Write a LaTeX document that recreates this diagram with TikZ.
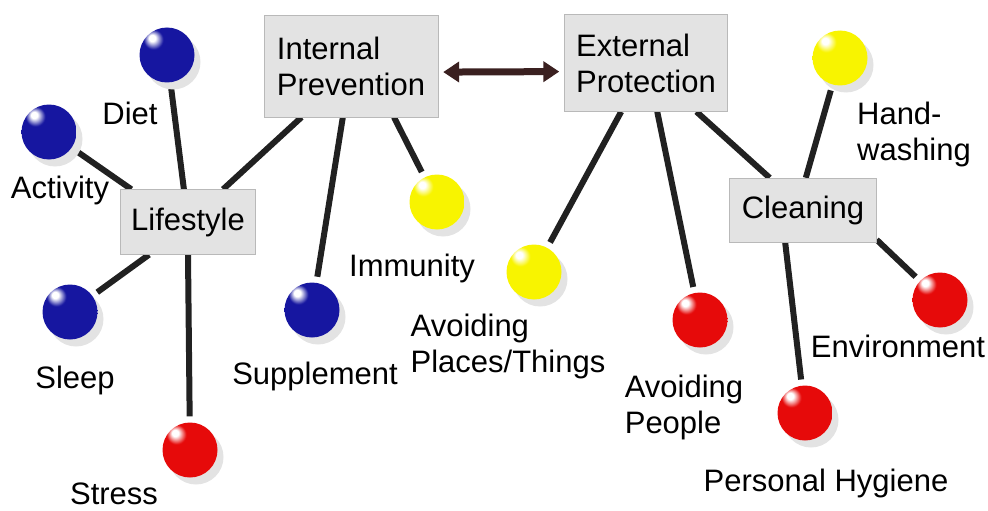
\documentclass[tikz,border=0pt]{standalone}
\usepackage{fontspec}
\setmainfont{Liberation Sans}
\usetikzlibrary{shadows,arrows.meta,backgrounds}

\definecolor{bluec}{RGB}{22,22,160}
\definecolor{redc}{RGB}{230,10,10}
\definecolor{yellowc}{RGB}{248,244,0}
\definecolor{arrowc}{RGB}{58,32,32}
\pgfdeclareradialshading{blueball}{\pgfpoint{-14bp}{16bp}}{color(0bp)=(white);color(3bp)=(white);color(9bp)=(bluec);color(38bp)=(bluec);color(58bp)=(bluec!45!black);color(80bp)=(bluec!45!black)}
\pgfdeclareradialshading{redball}{\pgfpoint{-14bp}{16bp}}{color(0bp)=(white);color(3bp)=(white);color(9bp)=(redc);color(38bp)=(redc);color(58bp)=(redc!55!black);color(80bp)=(redc!55!black)}
\pgfdeclareradialshading{yellowball}{\pgfpoint{-14bp}{16bp}}{color(0bp)=(white);color(3bp)=(white);color(9bp)=(yellowc);color(38bp)=(yellowc);color(58bp)=(yellowc!60!black);color(80bp)=(yellowc!60!black)}

\tikzstyle{box}=[draw=gray!55,fill=gray!22,align=left,inner sep=0pt]
\tikzstyle{ball}=[circle,minimum size=55pt,inner sep=0pt,
drop shadow={shadow xshift=6pt,shadow yshift=-7pt,fill=gray!22,opacity=1}]
\tikzstyle{line}=[line width=6pt,draw=black!87,shorten >=6pt]
\tikzstyle{lbl}=[inner sep=0pt,align=left]

\begin{document}
\begin{tikzpicture}[x=1pt,y=-1pt,font=\fontsize{31}{36}\selectfont]
	\useasboundingbox (0,0) rectangle (988,511);

	% boxes
	\node[box,minimum width=174pt,minimum height=102pt] (intern) at (351,66) {Internal\\Prevention};
	\node[box,minimum width=163pt,minimum height=97pt] (extern) at (646,63) {External\\Protection};
	\node[box,minimum width=135pt,minimum height=65pt] (life) at (188,222) {Lifestyle};
	\node[box,minimum width=147pt,minimum height=64pt] (clean) at (803,210) {Cleaning};

	% balls
	\node[ball,shading=blueball] (diet) at (167,55) {};
	\node[ball,shading=blueball] (act) at (49,132) {};
	\node[ball,shading=blueball] (sleep) at (70,312) {};
	\node[ball,shading=redball] (stress) at (190,450) {};
	\node[ball,shading=blueball] (supp) at (312,310) {};
	\node[ball,shading=yellowball] (immun) at (437,202) {};
	\node[ball,shading=yellowball] (places) at (534,272) {};
	\node[ball,shading=redball] (people) at (700,320) {};
	\node[ball,shading=yellowball] (hand) at (840,58) {};
	\node[ball,shading=redball] (env) at (940,300) {};
	\node[ball,shading=redball] (hyg) at (805,413) {};

	% labels
	\node[lbl] (ldiet) at (130,113) {Diet};
	\node[lbl] (lact) at (60,190) {Activity};
	\node[lbl] (lsleep) at (75,380) {Sleep};
	\node[lbl] (lstress) at (114,494) {Stress};
	\node[lbl] (lsupp) at (315,376) {Supplement};
	\node[lbl] (limmun) at (412,268) {Immunity};
	\node[lbl] (lplaces) at (508,346) {Avoiding\\Places/Things};
	\node[lbl] (lpeople) at (684,407) {Avoiding\\People};
	\node[lbl] (lhand) at (914,134) {Hand-\\washing};
	\node[lbl] (lenv) at (898,346) {Environment};
	\node[lbl] (lhyg) at (826,483) {Personal Hygiene};

	\begin{scope}[on background layer]
	\draw[line] (life) -- (diet);
	\draw[line] (life.150) -- (act);
	\draw[line] (life.220) -- (sleep);
	\draw[line] (life.south) -- (stress);
	\draw[line,shorten >=0pt] (life.43) -- (intern.226);
	\draw[line] (intern) -- (supp);
	\draw[line] (intern.-50) -- (immun);
	\draw[line] (extern.243) -- (places);
	\draw[line] (extern.-77) -- (people);
	\draw[line,shorten >=0pt] (extern.-44) -- (clean.136);
	\draw[line] (clean.85) -- (hand);
	\draw[line] (clean.-22) -- (env);
	\draw[line] (clean.-119) -- (hyg);
	\end{scope}

	\draw[{Triangle[length=16pt,width=20pt]}-{Triangle[length=16pt,width=20pt]},line width=7pt,draw=arrowc,fill=arrowc,shorten <=5pt,shorten >=5pt] (intern.-4) -- (extern.186);
\end{tikzpicture}
\end{document}
